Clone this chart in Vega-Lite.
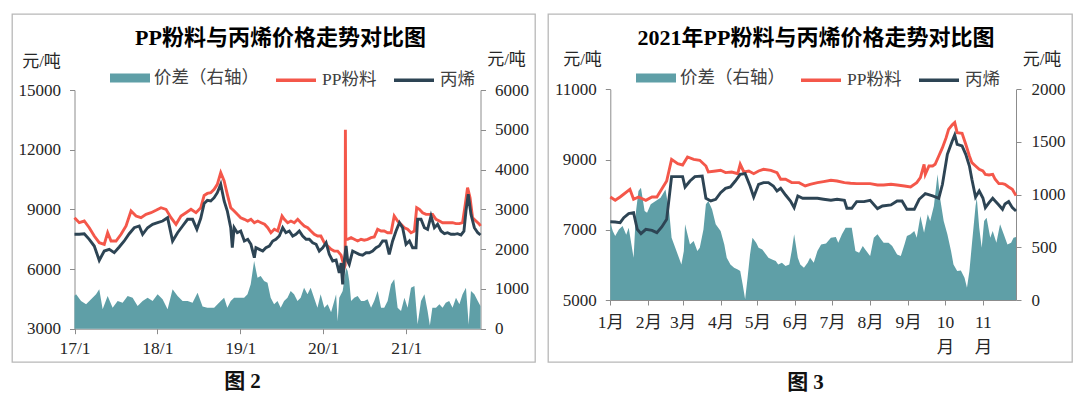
{
"$schema":"https://vega.github.io/schema/vega-lite/v6.json",
"padding":{"left":11,"top":13,"right":0,"bottom":0},
"background":"white",
"bounds":"flush",
"spacing":13,
"config":{
 "view":{"stroke":"#b8b8b8","strokeWidth":1.3},
 "font":"Liberation Serif, Noto Sans CJK SC",
 "axis":{"grid":false,"domainColor":"#8c8c8c","tickColor":"#8c8c8c","tickSize":5,"labelFont":"Liberation Serif, Noto Sans CJK SC","labelFontSize":17,"labelColor":"#262626","titleFont":"Liberation Serif, Noto Sans CJK SC","titleFontWeight":"normal","titleFontSize":17,"titleColor":"#262626","labelOverlap":false},
 "legend":{"labelFont":"Liberation Serif, Noto Sans CJK SC","labelFontSize":17.5,"labelColor":"#404040","symbolSize":1600,"labelOffset":4,"columnPadding":10,"padding":0,"orient":"none","direction":"horizontal"}
},
"resolve":{"scale":{"fill":"independent","stroke":"independent"},"legend":{"fill":"independent","stroke":"independent"}},
"datasets":{
"pp1":[{"d":"2017-01-01","v":8580},{"d":"2017-01-22","v":8330},{"d":"2017-02-13","v":8414},{"d":"2017-03-07","v":8077},{"d":"2017-03-29","v":7660},{"d":"2017-04-20","v":7323},{"d":"2017-05-12","v":7243},{"d":"2017-05-27","v":7826},{"d":"2017-06-11","v":7409},{"d":"2017-07-03","v":7409},{"d":"2017-07-25","v":7745},{"d":"2017-08-16","v":8163},{"d":"2017-09-07","v":8917},{"d":"2017-09-29","v":8665},{"d":"2017-10-21","v":8580},{"d":"2017-11-12","v":8749},{"d":"2017-12-04","v":8832},{"d":"2017-12-26","v":8952},{"d":"2018-01-17","v":9083},{"d":"2018-02-08","v":9000},{"d":"2018-03-02","v":8580},{"d":"2018-03-24","v":8248},{"d":"2018-04-15","v":8665},{"d":"2018-05-07","v":8832},{"d":"2018-05-29","v":9000},{"d":"2018-06-20","v":8832},{"d":"2018-07-11","v":9083},{"d":"2018-07-26","v":9700},{"d":"2018-08-09","v":9800},{"d":"2018-08-24","v":9837},{"d":"2018-09-08","v":10008},{"d":"2018-09-22","v":10259},{"d":"2018-10-07","v":10842},{"d":"2018-10-22","v":10425},{"d":"2018-11-05","v":9756},{"d":"2018-11-20","v":9083},{"d":"2018-12-05","v":8917},{"d":"2018-12-19","v":8749},{"d":"2019-01-03","v":8580},{"d":"2019-01-19","v":8499},{"d":"2019-02-03","v":8414},{"d":"2019-02-17","v":8499},{"d":"2019-03-04","v":8329},{"d":"2019-03-19","v":8414},{"d":"2019-04-03","v":8329},{"d":"2019-04-18","v":8248},{"d":"2019-05-02","v":8077},{"d":"2019-05-16","v":7826},{"d":"2019-05-31","v":7997},{"d":"2019-06-15","v":7911},{"d":"2019-07-04","v":8665},{"d":"2019-07-14","v":8499},{"d":"2019-07-29","v":8329},{"d":"2019-08-12","v":8414},{"d":"2019-08-27","v":8329},{"d":"2019-09-11","v":8499},{"d":"2019-09-25","v":8329},{"d":"2019-10-10","v":8163},{"d":"2019-10-25","v":8077},{"d":"2019-11-08","v":7911},{"d":"2019-11-23","v":7745},{"d":"2019-12-08","v":7660},{"d":"2019-12-22","v":7660},{"d":"2020-01-06","v":7323},{"d":"2020-01-21","v":7157},{"d":"2020-02-05","v":6990},{"d":"2020-02-19","v":6906},{"d":"2020-03-05","v":6900},{"d":"2020-03-20","v":6700},{"d":"2020-03-27","v":6403},{"d":"2020-04-03","v":6067},{"d":"2020-04-07","v":6200},{"d":"2020-04-08","v":13000},{"d":"2020-04-10","v":7494},{"d":"2020-04-18","v":7494},{"d":"2020-05-03","v":7577},{"d":"2020-05-17","v":7494},{"d":"2020-06-01","v":7409},{"d":"2020-06-16","v":7494},{"d":"2020-06-30","v":7450},{"d":"2020-07-15","v":7494},{"d":"2020-07-30","v":7577},{"d":"2020-08-13","v":7610},{"d":"2020-08-28","v":7997},{"d":"2020-09-12","v":7911},{"d":"2020-09-26","v":7911},{"d":"2020-10-11","v":7826},{"d":"2020-10-26","v":7826},{"d":"2020-11-09","v":8665},{"d":"2020-11-24","v":8414},{"d":"2020-12-09","v":8248},{"d":"2020-12-24","v":8077},{"d":"2021-01-07","v":7997},{"d":"2021-01-22","v":7826},{"d":"2021-02-06","v":7911},{"d":"2021-02-16","v":9083},{"d":"2021-02-28","v":9000},{"d":"2021-03-14","v":8832},{"d":"2021-03-29","v":8749},{"d":"2021-04-13","v":8749},{"d":"2021-04-27","v":8749},{"d":"2021-05-12","v":8499},{"d":"2021-05-27","v":8414},{"d":"2021-06-10","v":8329},{"d":"2021-06-24","v":8329},{"d":"2021-07-09","v":8329},{"d":"2021-07-24","v":8329},{"d":"2021-08-08","v":8280},{"d":"2021-08-23","v":8280},{"d":"2021-09-06","v":8329},{"d":"2021-09-18","v":9253},{"d":"2021-09-28","v":10088},{"d":"2021-10-09","v":9586},{"d":"2021-10-20","v":8580},{"d":"2021-11-04","v":8414},{"d":"2021-11-19","v":8248},{"d":"2021-11-24","v":8163}],
"c31":[{"d":"2017-01-01","v":7745},{"d":"2017-01-22","v":7745},{"d":"2017-02-13","v":7776},{"d":"2017-03-07","v":7494},{"d":"2017-03-29","v":7157},{"d":"2017-04-20","v":6438},{"d":"2017-05-12","v":6906},{"d":"2017-06-03","v":6990},{"d":"2017-06-25","v":6821},{"d":"2017-07-17","v":7107},{"d":"2017-08-08","v":7409},{"d":"2017-08-30","v":7776},{"d":"2017-09-21","v":8077},{"d":"2017-10-13","v":8163},{"d":"2017-10-28","v":7745},{"d":"2017-11-19","v":8077},{"d":"2017-12-11","v":8248},{"d":"2018-01-02","v":8329},{"d":"2018-01-24","v":8414},{"d":"2018-02-15","v":8580},{"d":"2018-03-09","v":7409},{"d":"2018-03-31","v":7826},{"d":"2018-04-22","v":8163},{"d":"2018-05-14","v":8499},{"d":"2018-06-05","v":8499},{"d":"2018-06-24","v":7997},{"d":"2018-07-11","v":8550},{"d":"2018-07-26","v":9300},{"d":"2018-08-09","v":9450},{"d":"2018-08-24","v":9420},{"d":"2018-09-08","v":9586},{"d":"2018-09-22","v":9837},{"d":"2018-10-07","v":10259},{"d":"2018-10-22","v":9420},{"d":"2018-11-05","v":8917},{"d":"2018-11-20","v":8077},{"d":"2018-11-27","v":7072},{"d":"2018-12-05","v":8077},{"d":"2018-12-19","v":7826},{"d":"2019-01-03","v":7911},{"d":"2019-01-19","v":7409},{"d":"2019-02-03","v":7494},{"d":"2019-02-17","v":7243},{"d":"2019-03-04","v":6570},{"d":"2019-03-11","v":7072},{"d":"2019-03-26","v":6990},{"d":"2019-04-10","v":6906},{"d":"2019-04-24","v":7072},{"d":"2019-05-09","v":7157},{"d":"2019-05-24","v":7409},{"d":"2019-06-07","v":7494},{"d":"2019-06-22","v":7660},{"d":"2019-07-07","v":8077},{"d":"2019-07-21","v":7826},{"d":"2019-08-05","v":7911},{"d":"2019-08-20","v":7660},{"d":"2019-09-03","v":7745},{"d":"2019-09-18","v":7911},{"d":"2019-10-03","v":7660},{"d":"2019-10-18","v":7494},{"d":"2019-11-01","v":7494},{"d":"2019-11-16","v":7323},{"d":"2019-12-01","v":7243},{"d":"2019-12-15","v":6906},{"d":"2019-12-30","v":7072},{"d":"2020-01-14","v":7323},{"d":"2020-01-28","v":6740},{"d":"2020-02-12","v":6403},{"d":"2020-02-27","v":6450},{"d":"2020-03-12","v":5800},{"d":"2020-03-20","v":6300},{"d":"2020-03-27","v":5232},{"d":"2020-04-03","v":6403},{"d":"2020-04-11","v":7157},{"d":"2020-04-18","v":6403},{"d":"2020-04-25","v":6237},{"d":"2020-05-10","v":6906},{"d":"2020-05-25","v":6821},{"d":"2020-06-08","v":6740},{"d":"2020-06-23","v":6700},{"d":"2020-07-08","v":6821},{"d":"2020-07-22","v":6821},{"d":"2020-08-06","v":6906},{"d":"2020-08-21","v":7072},{"d":"2020-09-04","v":7157},{"d":"2020-09-19","v":7409},{"d":"2020-10-04","v":7409},{"d":"2020-10-18","v":6740},{"d":"2020-11-02","v":7409},{"d":"2020-11-17","v":7911},{"d":"2020-12-02","v":8329},{"d":"2020-12-16","v":8077},{"d":"2020-12-31","v":7243},{"d":"2021-01-15","v":7409},{"d":"2021-01-29","v":7072},{"d":"2021-02-13","v":7072},{"d":"2021-02-20","v":8499},{"d":"2021-03-07","v":8499},{"d":"2021-03-22","v":8077},{"d":"2021-04-05","v":7997},{"d":"2021-04-20","v":8665},{"d":"2021-05-05","v":8077},{"d":"2021-05-19","v":8248},{"d":"2021-06-03","v":7911},{"d":"2021-06-18","v":7776},{"d":"2021-07-02","v":7826},{"d":"2021-07-17","v":7745},{"d":"2021-08-01","v":7745},{"d":"2021-08-15","v":7776},{"d":"2021-08-30","v":7710},{"d":"2021-09-12","v":7900},{"d":"2021-09-21","v":8917},{"d":"2021-10-01","v":9756},{"d":"2021-10-13","v":8749},{"d":"2021-10-28","v":8077},{"d":"2021-11-12","v":7826},{"d":"2021-11-24","v":7710}],
"sp1":[{"d":"2017-01-01","v":830},{"d":"2017-01-08","v":863},{"d":"2017-01-30","v":696},{"d":"2017-02-21","v":612},{"d":"2017-03-15","v":738},{"d":"2017-04-06","v":863},{"d":"2017-04-20","v":989},{"d":"2017-05-05","v":487},{"d":"2017-05-27","v":821},{"d":"2017-06-18","v":528},{"d":"2017-07-10","v":696},{"d":"2017-08-01","v":654},{"d":"2017-08-23","v":821},{"d":"2017-09-14","v":780},{"d":"2017-10-06","v":570},{"d":"2017-10-28","v":696},{"d":"2017-11-19","v":780},{"d":"2017-12-11","v":696},{"d":"2018-01-02","v":863},{"d":"2018-01-24","v":738},{"d":"2018-02-15","v":487},{"d":"2018-03-09","v":989},{"d":"2018-03-31","v":821},{"d":"2018-04-22","v":696},{"d":"2018-05-14","v":696},{"d":"2018-06-05","v":654},{"d":"2018-06-27","v":905},{"d":"2018-07-19","v":560},{"d":"2018-08-09","v":528},{"d":"2018-09-08","v":528},{"d":"2018-10-07","v":696},{"d":"2018-10-22","v":780},{"d":"2018-11-05","v":528},{"d":"2018-11-20","v":696},{"d":"2018-12-05","v":780},{"d":"2019-01-03","v":780},{"d":"2019-01-18","v":780},{"d":"2019-02-02","v":863},{"d":"2019-02-16","v":1115},{"d":"2019-03-03","v":1701},{"d":"2019-03-18","v":1282},{"d":"2019-04-01","v":1324},{"d":"2019-04-16","v":1199},{"d":"2019-05-01","v":1156},{"d":"2019-05-15","v":780},{"d":"2019-05-30","v":612},{"d":"2019-06-14","v":696},{"d":"2019-06-28","v":528},{"d":"2019-07-13","v":696},{"d":"2019-07-28","v":780},{"d":"2019-08-11","v":947},{"d":"2019-08-26","v":863},{"d":"2019-09-10","v":696},{"d":"2019-09-24","v":780},{"d":"2019-10-09","v":1031},{"d":"2019-10-24","v":863},{"d":"2019-11-07","v":1031},{"d":"2019-11-22","v":780},{"d":"2019-12-07","v":528},{"d":"2019-12-21","v":863},{"d":"2020-01-06","v":528},{"d":"2020-01-21","v":612},{"d":"2020-02-05","v":412},{"d":"2020-02-19","v":696},{"d":"2020-02-27","v":863},{"d":"2020-03-05","v":190},{"d":"2020-03-12","v":780},{"d":"2020-03-27","v":947},{"d":"2020-04-11","v":1534},{"d":"2020-04-18","v":1450},{"d":"2020-04-25","v":1199},{"d":"2020-05-03","v":696},{"d":"2020-05-17","v":780},{"d":"2020-06-01","v":821},{"d":"2020-06-16","v":696},{"d":"2020-06-30","v":696},{"d":"2020-07-15","v":738},{"d":"2020-07-30","v":528},{"d":"2020-08-13","v":696},{"d":"2020-08-28","v":947},{"d":"2020-09-12","v":528},{"d":"2020-09-26","v":528},{"d":"2020-10-11","v":696},{"d":"2020-10-26","v":1115},{"d":"2020-11-09","v":1240},{"d":"2020-11-24","v":528},{"d":"2020-12-09","v":445},{"d":"2020-12-24","v":780},{"d":"2021-01-07","v":528},{"d":"2021-01-22","v":1031},{"d":"2021-02-06","v":1073},{"d":"2021-02-20","v":110},{"d":"2021-03-07","v":696},{"d":"2021-03-22","v":863},{"d":"2021-04-05","v":445},{"d":"2021-04-15","v":80},{"d":"2021-04-26","v":528},{"d":"2021-05-12","v":528},{"d":"2021-05-27","v":612},{"d":"2021-06-10","v":528},{"d":"2021-06-24","v":654},{"d":"2021-07-09","v":696},{"d":"2021-07-24","v":528},{"d":"2021-08-08","v":780},{"d":"2021-08-23","v":612},{"d":"2021-09-06","v":863},{"d":"2021-09-21","v":1031},{"d":"2021-10-03","v":100},{"d":"2021-10-13","v":947},{"d":"2021-10-28","v":863},{"d":"2021-11-12","v":696},{"d":"2021-11-24","v":570}],
"pp2":[{"d":"2021-01-01","v":7933},{"d":"2021-01-05","v":7839},{"d":"2021-01-09","v":7933},{"d":"2021-01-17","v":8152},{"d":"2021-01-20","v":7868},{"d":"2021-01-24","v":7933},{"d":"2021-01-30","v":7839},{"d":"2021-02-04","v":7933},{"d":"2021-02-08","v":7933},{"d":"2021-02-16","v":8389},{"d":"2021-02-20","v":9006},{"d":"2021-02-25","v":8882},{"d":"2021-03-01","v":8845},{"d":"2021-03-05","v":9073},{"d":"2021-03-10","v":9006},{"d":"2021-03-15","v":8978},{"d":"2021-03-20","v":8816},{"d":"2021-03-22","v":8645},{"d":"2021-03-28","v":8674},{"d":"2021-04-01","v":8693},{"d":"2021-04-05","v":8627},{"d":"2021-04-10","v":8645},{"d":"2021-04-15","v":8597},{"d":"2021-04-17","v":8864},{"d":"2021-04-20","v":8645},{"d":"2021-04-24","v":8674},{"d":"2021-04-28","v":8597},{"d":"2021-05-02","v":8674},{"d":"2021-05-06","v":8721},{"d":"2021-05-12","v":8693},{"d":"2021-05-17","v":8627},{"d":"2021-05-20","v":8437},{"d":"2021-05-24","v":8437},{"d":"2021-05-29","v":8342},{"d":"2021-06-04","v":8342},{"d":"2021-06-09","v":8247},{"d":"2021-06-13","v":8295},{"d":"2021-06-19","v":8342},{"d":"2021-06-24","v":8370},{"d":"2021-06-30","v":8408},{"d":"2021-07-05","v":8389},{"d":"2021-07-11","v":8342},{"d":"2021-07-16","v":8323},{"d":"2021-07-21","v":8313},{"d":"2021-07-27","v":8313},{"d":"2021-08-01","v":8313},{"d":"2021-08-07","v":8275},{"d":"2021-08-12","v":8275},{"d":"2021-08-18","v":8295},{"d":"2021-08-23","v":8275},{"d":"2021-08-29","v":8247},{"d":"2021-09-03","v":8218},{"d":"2021-09-08","v":8342},{"d":"2021-09-11","v":8484},{"d":"2021-09-14","v":8864},{"d":"2021-09-15","v":8579},{"d":"2021-09-18","v":8816},{"d":"2021-09-21","v":8816},{"d":"2021-09-23","v":8864},{"d":"2021-09-26","v":9101},{"d":"2021-09-29","v":9339},{"d":"2021-10-02","v":9623},{"d":"2021-10-04","v":9860},{"d":"2021-10-07","v":9988},{"d":"2021-10-09","v":10053},{"d":"2021-10-11","v":9765},{"d":"2021-10-15","v":9745},{"d":"2021-10-18","v":9434},{"d":"2021-10-21","v":9101},{"d":"2021-10-23","v":8911},{"d":"2021-10-26","v":8816},{"d":"2021-10-29","v":8721},{"d":"2021-11-01","v":8674},{"d":"2021-11-03","v":8579},{"d":"2021-11-06","v":8560},{"d":"2021-11-09","v":8579},{"d":"2021-11-11","v":8437},{"d":"2021-11-14","v":8313},{"d":"2021-11-17","v":8313},{"d":"2021-11-19","v":8295},{"d":"2021-11-22","v":8218},{"d":"2021-11-25","v":8152},{"d":"2021-11-28","v":7972}],
"c32":[{"d":"2021-01-01","v":7230},{"d":"2021-01-05","v":7221},{"d":"2021-01-09","v":7202},{"d":"2021-01-12","v":7344},{"d":"2021-01-16","v":7458},{"d":"2021-01-20","v":7486},{"d":"2021-01-23","v":7013},{"d":"2021-01-26","v":6889},{"d":"2021-01-30","v":7013},{"d":"2021-02-04","v":6984},{"d":"2021-02-08","v":6917},{"d":"2021-02-12","v":7079},{"d":"2021-02-16","v":7297},{"d":"2021-02-20","v":8512},{"d":"2021-02-25","v":8512},{"d":"2021-03-01","v":8512},{"d":"2021-03-03","v":8218},{"d":"2021-03-07","v":8389},{"d":"2021-03-11","v":8512},{"d":"2021-03-17","v":8532},{"d":"2021-03-20","v":7896},{"d":"2021-03-24","v":7820},{"d":"2021-03-28","v":7868},{"d":"2021-04-01","v":8057},{"d":"2021-04-05","v":8180},{"d":"2021-04-09","v":8218},{"d":"2021-04-13","v":8389},{"d":"2021-04-17","v":8579},{"d":"2021-04-21","v":8597},{"d":"2021-04-25","v":8247},{"d":"2021-04-28","v":7933},{"d":"2021-05-02","v":8295},{"d":"2021-05-06","v":8342},{"d":"2021-05-10","v":8342},{"d":"2021-05-14","v":8247},{"d":"2021-05-17","v":8104},{"d":"2021-05-20","v":8180},{"d":"2021-05-24","v":7990},{"d":"2021-05-28","v":7820},{"d":"2021-05-31","v":7629},{"d":"2021-06-03","v":7962},{"d":"2021-06-07","v":7896},{"d":"2021-06-12","v":7896},{"d":"2021-06-19","v":7896},{"d":"2021-06-24","v":7868},{"d":"2021-06-30","v":7839},{"d":"2021-07-05","v":7868},{"d":"2021-07-11","v":7839},{"d":"2021-07-13","v":7612},{"d":"2021-07-17","v":7612},{"d":"2021-07-21","v":7801},{"d":"2021-07-27","v":7801},{"d":"2021-08-01","v":7839},{"d":"2021-08-07","v":7603},{"d":"2021-08-11","v":7677},{"d":"2021-08-18","v":7706},{"d":"2021-08-23","v":7820},{"d":"2021-08-27","v":7820},{"d":"2021-08-31","v":7583},{"d":"2021-09-06","v":7583},{"d":"2021-09-10","v":7868},{"d":"2021-09-15","v":8028},{"d":"2021-09-21","v":7962},{"d":"2021-09-26","v":7896},{"d":"2021-09-29","v":8295},{"d":"2021-10-03","v":9149},{"d":"2021-10-07","v":9528},{"d":"2021-10-09","v":9699},{"d":"2021-10-11","v":9434},{"d":"2021-10-15","v":9386},{"d":"2021-10-18","v":9149},{"d":"2021-10-21","v":8816},{"d":"2021-10-23","v":8437},{"d":"2021-10-26","v":7933},{"d":"2021-10-29","v":8104},{"d":"2021-11-01","v":7905},{"d":"2021-11-03","v":7629},{"d":"2021-11-06","v":7771},{"d":"2021-11-09","v":7896},{"d":"2021-11-11","v":7820},{"d":"2021-11-14","v":7706},{"d":"2021-11-17","v":7583},{"d":"2021-11-19","v":7734},{"d":"2021-11-22","v":7801},{"d":"2021-11-25","v":7629},{"d":"2021-11-28","v":7535}],
"sp2":[{"d":"2021-01-01","v":734},{"d":"2021-01-03","v":655},{"d":"2021-01-05","v":607},{"d":"2021-01-08","v":670},{"d":"2021-01-11","v":702},{"d":"2021-01-14","v":620},{"d":"2021-01-16","v":686},{"d":"2021-01-20","v":401},{"d":"2021-01-22","v":845},{"d":"2021-01-24","v":1035},{"d":"2021-01-26","v":1066},{"d":"2021-01-29","v":845},{"d":"2021-01-31","v":829},{"d":"2021-02-03","v":908},{"d":"2021-02-07","v":940},{"d":"2021-02-11","v":971},{"d":"2021-02-15","v":1050},{"d":"2021-02-18","v":845},{"d":"2021-02-20","v":591},{"d":"2021-02-23","v":496},{"d":"2021-02-26","v":401},{"d":"2021-02-28","v":338},{"d":"2021-03-02","v":465},{"d":"2021-03-03","v":718},{"d":"2021-03-07","v":528},{"d":"2021-03-10","v":560},{"d":"2021-03-13","v":465},{"d":"2021-03-15","v":496},{"d":"2021-03-18","v":670},{"d":"2021-03-20","v":908},{"d":"2021-03-22","v":940},{"d":"2021-03-25","v":861},{"d":"2021-03-28","v":718},{"d":"2021-04-01","v":655},{"d":"2021-04-04","v":528},{"d":"2021-04-06","v":401},{"d":"2021-04-09","v":338},{"d":"2021-04-12","v":306},{"d":"2021-04-15","v":290},{"d":"2021-04-17","v":275},{"d":"2021-04-19","v":148},{"d":"2021-04-21","v":6},{"d":"2021-04-23","v":212},{"d":"2021-04-25","v":433},{"d":"2021-04-27","v":591},{"d":"2021-04-30","v":544},{"d":"2021-05-02","v":496},{"d":"2021-05-05","v":480},{"d":"2021-05-07","v":449},{"d":"2021-05-10","v":401},{"d":"2021-05-13","v":385},{"d":"2021-05-16","v":370},{"d":"2021-05-18","v":338},{"d":"2021-05-21","v":354},{"d":"2021-05-24","v":322},{"d":"2021-05-27","v":338},{"d":"2021-05-29","v":465},{"d":"2021-05-31","v":623},{"d":"2021-06-03","v":401},{"d":"2021-06-05","v":338},{"d":"2021-06-08","v":306},{"d":"2021-06-11","v":354},{"d":"2021-06-13","v":401},{"d":"2021-06-16","v":354},{"d":"2021-06-19","v":465},{"d":"2021-06-22","v":528},{"d":"2021-06-26","v":536},{"d":"2021-06-30","v":591},{"d":"2021-07-04","v":597},{"d":"2021-07-06","v":544},{"d":"2021-07-09","v":623},{"d":"2021-07-12","v":686},{"d":"2021-07-15","v":686},{"d":"2021-07-17","v":686},{"d":"2021-07-20","v":465},{"d":"2021-07-23","v":449},{"d":"2021-07-26","v":512},{"d":"2021-07-28","v":480},{"d":"2021-08-01","v":417},{"d":"2021-08-04","v":591},{"d":"2021-08-07","v":623},{"d":"2021-08-10","v":575},{"d":"2021-08-12","v":544},{"d":"2021-08-16","v":544},{"d":"2021-08-19","v":512},{"d":"2021-08-23","v":433},{"d":"2021-08-26","v":417},{"d":"2021-08-29","v":528},{"d":"2021-08-31","v":607},{"d":"2021-09-03","v":623},{"d":"2021-09-06","v":655},{"d":"2021-09-08","v":591},{"d":"2021-09-11","v":797},{"d":"2021-09-14","v":639},{"d":"2021-09-17","v":813},{"d":"2021-09-19","v":750},{"d":"2021-09-22","v":892},{"d":"2021-09-25","v":1193},{"d":"2021-09-27","v":971},{"d":"2021-09-30","v":750},{"d":"2021-10-03","v":623},{"d":"2021-10-06","v":465},{"d":"2021-10-08","v":338},{"d":"2021-10-11","v":275},{"d":"2021-10-14","v":281},{"d":"2021-10-17","v":212},{"d":"2021-10-19","v":117},{"d":"2021-10-21","v":275},{"d":"2021-10-23","v":528},{"d":"2021-10-26","v":892},{"d":"2021-10-27","v":971},{"d":"2021-10-29","v":686},{"d":"2021-10-31","v":496},{"d":"2021-11-02","v":750},{"d":"2021-11-04","v":781},{"d":"2021-11-07","v":591},{"d":"2021-11-09","v":655},{"d":"2021-11-12","v":544},{"d":"2021-11-15","v":718},{"d":"2021-11-18","v":623},{"d":"2021-11-21","v":528},{"d":"2021-11-24","v":544},{"d":"2021-11-26","v":591},{"d":"2021-11-28","v":597}]
},
"hconcat":[
{
 "width":523,"height":348,
 "title":{"text":"PP粉料与丙烯价格走势对比图","fontSize":22,"fontWeight":"bold","font":"Liberation Serif, Noto Sans CJK SC","color":"#000000","anchor":"middle","frame":"group","offset":-46,"baseline":"middle","dx":7},
 "encoding":{"x":{"field":"d","type":"temporal","scale":{"type":"utc","nice":false,"domain":["2017-01-01","2021-11-24"],"range":[62.5,468.5]},"axis":{"orient":"bottom","offset":-33.3,"tickCount":"year","format":"%y/%-m","labelFlush":false,"labelPadding":6,"labelFontSize":17.5,"title":"图 2","titleX":230,"titleY":53,"titleBaseline":"middle","titleAlign":"center","titleFontSize":21,"titleFontWeight":"bold","titleColor":"#111111"}}},
 "layer":[
  {"data":{"name":"sp1"},"mark":{"type":"area","opacity":1,"interpolate":"linear"},
   "encoding":{
    "y":{"field":"v","type":"quantitative","scale":{"domain":[0,6000],"range":[314.7,76],"nice":false},"axis":{"orient":"right","offset":-54.5,"values":[0,1000,2000,3000,4000,5000,6000],"format":"d","labelPadding":9,"title":"元/吨","titleAngle":0,"titleX":25.5,"titleY":45,"titleAlign":"center","titleBaseline":"middle"}},
    "fill":{"datum":"价差（右轴）","scale":{"range":["#5F9FA7"]},"legend":{"title":null,"legendX":98,"legendY":44,"symbolType":"M-1,-0.22H1V0.22H-1Z","symbolStrokeWidth":0,"symbolOpacity":1}}}},
  {"data":{"values":[{}]},"mark":{"type":"text","font":"Noto Sans CJK SC","fontSize":20,"fontWeight":"bold","color":"#cccccc"},
   "encoding":{"x":{"datum":{"year":2019,"month":7,"date":30,"utc":true},"type":"temporal","scale":{"type":"utc","nice":false,"domain":["2017-01-01","2021-11-24"],"range":[62.5,468.5]},"axis":{"orient":"bottom","offset":-33.3,"tickCount":"year","format":"%y/%-m","labelFlush":false,"labelPadding":6,"labelFontSize":17.5,"title":"图 2","titleX":230,"titleY":53,"titleBaseline":"middle","titleAlign":"center","titleFontSize":21,"titleFontWeight":"bold","titleColor":"#111111"}},"y":{"datum":10500,"type":"quantitative","scale":{"domain":[3000,15000],"range":[314.7,76],"nice":false},"axis":null},"text":{"value":"卓创资讯"}}},
  {"data":{"values":[{}]},"mark":{"type":"text","font":"Liberation Serif","fontSize":13,"color":"#cccccc"},
   "encoding":{"x":{"datum":{"year":2019,"month":7,"date":30,"utc":true},"type":"temporal","scale":{"type":"utc","nice":false,"domain":["2017-01-01","2021-11-24"],"range":[62.5,468.5]},"axis":{"orient":"bottom","offset":-33.3,"tickCount":"year","format":"%y/%-m","labelFlush":false,"labelPadding":6,"labelFontSize":17.5,"title":"图 2","titleX":230,"titleY":53,"titleBaseline":"middle","titleAlign":"center","titleFontSize":21,"titleFontWeight":"bold","titleColor":"#111111"}},"y":{"datum":9450,"type":"quantitative","scale":{"domain":[3000,15000],"range":[314.7,76],"nice":false},"axis":null},"text":{"value":"SCI99.COM"}}},
  {"data":{"name":"pp1"},"mark":{"type":"line","strokeWidth":2.9},
   "encoding":{
    "y":{"field":"v","type":"quantitative","scale":{"domain":[3000,15000],"range":[314.7,76],"nice":false},"axis":{"orient":"left","offset":-62.5,"values":[3000,6000,9000,12000,15000],"format":"d","labelPadding":9,"title":"元/吨","titleAngle":0,"titleX":-33.5,"titleY":47,"titleAlign":"center","titleBaseline":"middle"}},
    "stroke":{"datum":"PP粉料","scale":{"domain":["PP粉料","丙烯"],"range":["#F4574A","#2D4454"]},"legend":{"title":null,"legendX":262,"legendY":44,"symbolType":"stroke","symbolStrokeWidth":3.5}}}},
  {"data":{"name":"c31"},"mark":{"type":"line","strokeWidth":2.9},
   "encoding":{
    "y":{"field":"v","type":"quantitative","scale":{"domain":[3000,15000],"range":[314.7,76],"nice":false},"axis":null},
    "stroke":{"datum":"丙烯","scale":{"domain":["PP粉料","丙烯"],"range":["#F4574A","#2D4454"]},"legend":{"title":null,"legendX":262,"legendY":44,"symbolType":"stroke","symbolStrokeWidth":3.5}}}}
 ],
 "resolve":{"scale":{"y":"independent"}}
},
{
 "width":524,"height":348,
 "title":{"text":"2021年PP粉料与丙烯价格走势对比图","fontSize":22,"fontWeight":"bold","font":"Liberation Serif, Noto Sans CJK SC","color":"#000000","anchor":"middle","frame":"group","offset":-46,"baseline":"middle","dx":6},
 "encoding":{"x":{"field":"d","type":"temporal","scale":{"type":"utc","nice":false,"domain":["2021-01-01","2021-11-28"],"range":[62.3,468]},"axis":{"orient":"bottom","offset":-62,"tickCount":"month","labelExpr":"utcmonth(datum.value) >= 9 ? [toString(utcmonth(datum.value) + 1), '月'] : toString(utcmonth(datum.value) + 1) + '月'","labelLineHeight":25,"labelFlush":false,"labelPadding":8,"labelFontSize":17.5,"title":"图 3","titleX":257,"titleY":82,"titleBaseline":"middle","titleAlign":"center","titleFontSize":21,"titleFontWeight":"bold","titleColor":"#111111"}}},
 "layer":[
  {"data":{"name":"sp2"},"mark":{"type":"area","opacity":1,"interpolate":"linear"},
   "encoding":{
    "y":{"field":"v","type":"quantitative","scale":{"domain":[0,2000],"range":[286,75.3],"nice":false},"axis":{"orient":"right","offset":-56,"values":[0,500,1000,1500,2000],"format":"d","labelPadding":10,"title":"元/吨","titleAngle":0,"titleX":25.5,"titleY":45,"titleAlign":"center","titleBaseline":"middle"}},
    "fill":{"datum":"价差（右轴）","scale":{"range":["#5F9FA7"]},"legend":{"title":null,"legendX":88,"legendY":44,"symbolType":"M-1,-0.22H1V0.22H-1Z","symbolStrokeWidth":0,"symbolOpacity":1}}}},
  {"data":{"values":[{}]},"mark":{"type":"text","font":"Noto Sans CJK SC","fontSize":20,"fontWeight":"bold","color":"#cccccc"},
   "encoding":{"x":{"datum":{"year":2021,"month":6,"date":27,"utc":true},"type":"temporal","scale":{"type":"utc","nice":false,"domain":["2021-01-01","2021-11-28"],"range":[62.3,468]},"axis":{"orient":"bottom","offset":-62,"tickCount":"month","labelExpr":"utcmonth(datum.value) >= 9 ? [toString(utcmonth(datum.value) + 1), '月'] : toString(utcmonth(datum.value) + 1) + '月'","labelLineHeight":25,"labelFlush":false,"labelPadding":8,"labelFontSize":17.5,"title":"图 3","titleX":257,"titleY":82,"titleBaseline":"middle","titleAlign":"center","titleFontSize":21,"titleFontWeight":"bold","titleColor":"#111111"}},"y":{"datum":8500,"type":"quantitative","scale":{"domain":[5000,11000],"range":[286,75.3],"nice":false},"axis":null},"text":{"value":"卓创资讯"}}},
  {"data":{"values":[{}]},"mark":{"type":"text","font":"Liberation Serif","fontSize":13,"color":"#cccccc"},
   "encoding":{"x":{"datum":{"year":2021,"month":6,"date":27,"utc":true},"type":"temporal","scale":{"type":"utc","nice":false,"domain":["2021-01-01","2021-11-28"],"range":[62.3,468]},"axis":{"orient":"bottom","offset":-62,"tickCount":"month","labelExpr":"utcmonth(datum.value) >= 9 ? [toString(utcmonth(datum.value) + 1), '月'] : toString(utcmonth(datum.value) + 1) + '月'","labelLineHeight":25,"labelFlush":false,"labelPadding":8,"labelFontSize":17.5,"title":"图 3","titleX":257,"titleY":82,"titleBaseline":"middle","titleAlign":"center","titleFontSize":21,"titleFontWeight":"bold","titleColor":"#111111"}},"y":{"datum":7900,"type":"quantitative","scale":{"domain":[5000,11000],"range":[286,75.3],"nice":false},"axis":null},"text":{"value":"SCI99.COM"}}},
  {"data":{"name":"pp2"},"mark":{"type":"line","strokeWidth":2.9},
   "encoding":{
    "y":{"field":"v","type":"quantitative","scale":{"domain":[5000,11000],"range":[286,75.3],"nice":false},"axis":{"orient":"left","offset":-62.3,"values":[5000,7000,9000,11000],"format":"d","labelPadding":9,"title":"元/吨","titleAngle":0,"titleX":-28.3,"titleY":45,"titleAlign":"center","titleBaseline":"middle"}},
    "stroke":{"datum":"PP粉料","scale":{"domain":["PP粉料","丙烯"],"range":["#F4574A","#2D4454"]},"legend":{"title":null,"legendX":251,"legendY":44,"symbolType":"stroke","symbolStrokeWidth":3.5}}}},
  {"data":{"name":"c32"},"mark":{"type":"line","strokeWidth":2.9},
   "encoding":{
    "y":{"field":"v","type":"quantitative","scale":{"domain":[5000,11000],"range":[286,75.3],"nice":false},"axis":null},
    "stroke":{"datum":"丙烯","scale":{"domain":["PP粉料","丙烯"],"range":["#F4574A","#2D4454"]},"legend":{"title":null,"legendX":251,"legendY":44,"symbolType":"stroke","symbolStrokeWidth":3.5}}}}
 ],
 "resolve":{"scale":{"y":"independent"}}
}
]
}
